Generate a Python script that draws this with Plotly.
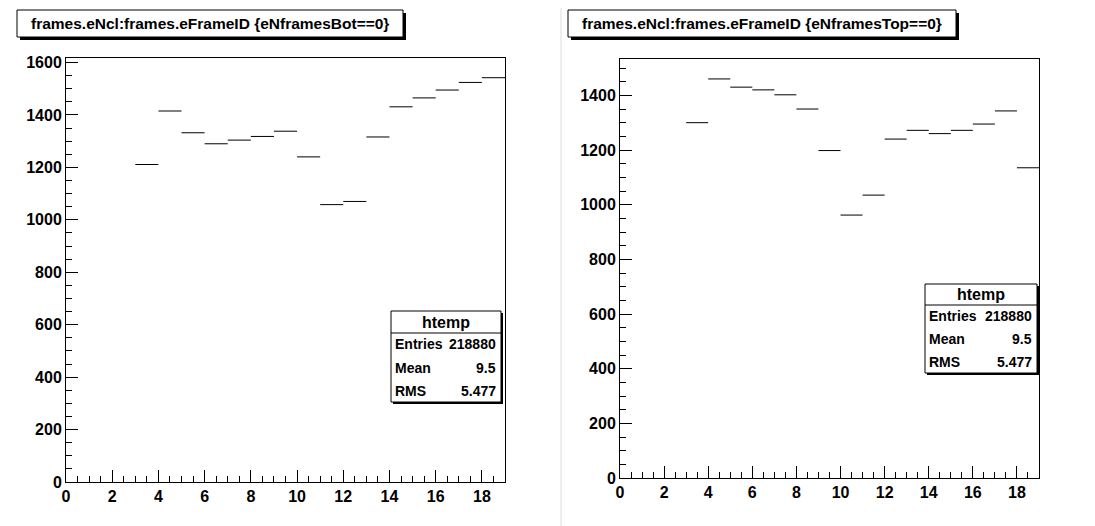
import plotly.graph_objects as go

# ---------------- data ----------------
bin_low = [3, 4, 5, 6, 7, 8, 9, 10, 11, 12, 13, 14, 15, 16, 17, 18]
bot_values = [1211, 1415, 1332, 1290, 1304, 1318, 1338, 1240, 1058, 1070,
              1316, 1431, 1465, 1495, 1524, 1542]
top_values = [1300, 1460, 1430, 1420, 1402, 1350, 1198, 962, 1035, 1240,
              1272, 1260, 1272, 1295, 1343, 1135]
bin_width = 1
x_ticks = [0, 2, 4, 6, 8, 10, 12, 14, 16, 18]
titles = ["frames.eNcl:frames.eFrameID {eNframesBot==0}",
          "frames.eNcl:frames.eFrameID {eNframesTop==0}"]
stats_name = "htemp"
stats_rows = [("Entries", "218880"), ("Mean", "9.5"), ("RMS", "5.477")]

# ---------------- layout helpers ----------------
W, H = 1095, 526
FONT = "Liberation Sans, Arial, Helvetica, sans-serif"


def px(x):
    return x / W


def py(y):
    return 1 - y / H


def segments(lows, vals, w):
    xs, ys = [], []
    for lo, v in zip(lows, vals):
        xs += [lo, lo + w, None]
        ys += [v, v, None]
    return xs, ys


fig = go.Figure()

series = [bot_values, top_values]
frames = [(58, 497, 49.5, 474), (612, 1031, 51, 470)]
for i, vals in enumerate(series):
    xs, ys = segments(bin_low, vals, bin_width)
    fig.add_trace(go.Scatter(
        x=xs, y=ys, mode="lines",
        line=dict(color="black", width=1),
        xaxis="x" if i == 0 else "x2",
        yaxis="y" if i == 0 else "y2",
        showlegend=False, hoverinfo="skip"))

axis_common = dict(
    showline=True, linecolor="black", linewidth=1, mirror=True,
    showgrid=False, zeroline=False, automargin=False,
    ticks="inside", ticklen=12, tickwidth=1, tickcolor="black",
    tickfont=dict(family=FONT, size=16, color="black", weight="bold"),
)

layout = dict(
    template="none",
    width=W, height=H,
    margin=dict(l=0, r=0, t=0, b=0, pad=0),
    paper_bgcolor="white", plot_bgcolor="rgba(0,0,0,0)",
    showlegend=False,
)

for i, vals in enumerate(series):
    x0, x1, y0, y1 = frames[i]
    sfx = "" if i == 0 else "2"
    ymax = 1.05 * max(vals)
    layout["xaxis" + sfx] = dict(
        axis_common, domain=[px(x0), px(x1)], range=[0, 19],
        tickvals=x_ticks, anchor="y" + sfx,
        minor=dict(dtick=0.5, tick0=0, ticks="inside", ticklen=6,
                   tickcolor="black", showgrid=False),
    )
    layout["yaxis" + sfx] = dict(
        axis_common, domain=[py(y1), py(y0)], range=[0, ymax],
        dtick=200, tick0=0, anchor="x" + sfx,
        minor=dict(dtick=50, tick0=0, ticks="inside", ticklen=6,
                   tickcolor="black", showgrid=False),
    )

fig.update_layout(**layout)

shapes = []
annotations = []

# pad borders
shapes.append(dict(type="line", xref="paper", yref="paper",
                   x0=px(553), x1=px(553), y0=0, y1=1,
                   line=dict(color="#dddddd", width=1)))
shapes.append(dict(type="line", xref="paper", yref="paper",
                   x0=0, x1=1, y0=py(524.5), y1=py(524.5),
                   line=dict(color="#e6e6e6", width=1)))

# title boxes
title_boxes = [(9, 395, 2, 29), (560, 948, 2, 29)]
for (bx0, bx1, by0, by1), txt in zip(title_boxes, titles):
    shapes.append(dict(type="rect", xref="paper", yref="paper",
                       x0=px(bx0 + 3), x1=px(bx1 + 3), y0=py(by1 + 3), y1=py(by0 + 3),
                       fillcolor="black", line=dict(width=0)))
    shapes.append(dict(type="rect", xref="paper", yref="paper",
                       x0=px(bx0), x1=px(bx1), y0=py(by1), y1=py(by0),
                       fillcolor="white", line=dict(color="black", width=1)))
    annotations.append(dict(xref="paper", yref="paper",
                            x=px((bx0 + bx1) / 2), y=py((by0 + by1) / 2),
                            text=txt, showarrow=False,
                            xanchor="center", yanchor="middle",
                            font=dict(family=FONT, size=15.5, color="black", weight="bold")))

# stats boxes
stats_boxes = [(383, 493, 303, 325, 394), (917, 1029, 276, 297, 365)]
for (sx0, sx1, sy0, ssep, sy1) in stats_boxes:
    shapes.append(dict(type="rect", xref="paper", yref="paper",
                       x0=px(sx0 + 2), x1=px(sx1 + 2), y0=py(sy1 + 2), y1=py(sy0 + 2),
                       fillcolor="black", line=dict(width=0)))
    shapes.append(dict(type="rect", xref="paper", yref="paper",
                       x0=px(sx0), x1=px(sx1), y0=py(sy1), y1=py(sy0),
                       fillcolor="white", line=dict(color="black", width=1)))
    shapes.append(dict(type="line", xref="paper", yref="paper",
                       x0=px(sx0), x1=px(sx1), y0=py(ssep), y1=py(ssep),
                       line=dict(color="black", width=1)))
    annotations.append(dict(xref="paper", yref="paper",
                            x=px((sx0 + sx1) / 2), y=py((sy0 + ssep) / 2),
                            text=stats_name, showarrow=False,
                            xanchor="center", yanchor="middle",
                            font=dict(family=FONT, size=16, color="black", weight="bold")))
    rh = (sy1 - ssep) / len(stats_rows)
    for k, (lab, val) in enumerate(stats_rows):
        yc = ssep + rh * (k + 0.5)
        annotations.append(dict(xref="paper", yref="paper",
                                x=px(sx0 + 2), y=py(yc), text=lab, showarrow=False,
                                xanchor="left", yanchor="middle",
                                font=dict(family=FONT, size=14, color="black", weight="bold")))
        annotations.append(dict(xref="paper", yref="paper",
                                x=px(sx1 - 3), y=py(yc), text=val, showarrow=False,
                                xanchor="right", yanchor="middle",
                                font=dict(family=FONT, size=14, color="black", weight="bold")))

fig.update_layout(shapes=shapes, annotations=annotations)
fig.write_html("out.html")
